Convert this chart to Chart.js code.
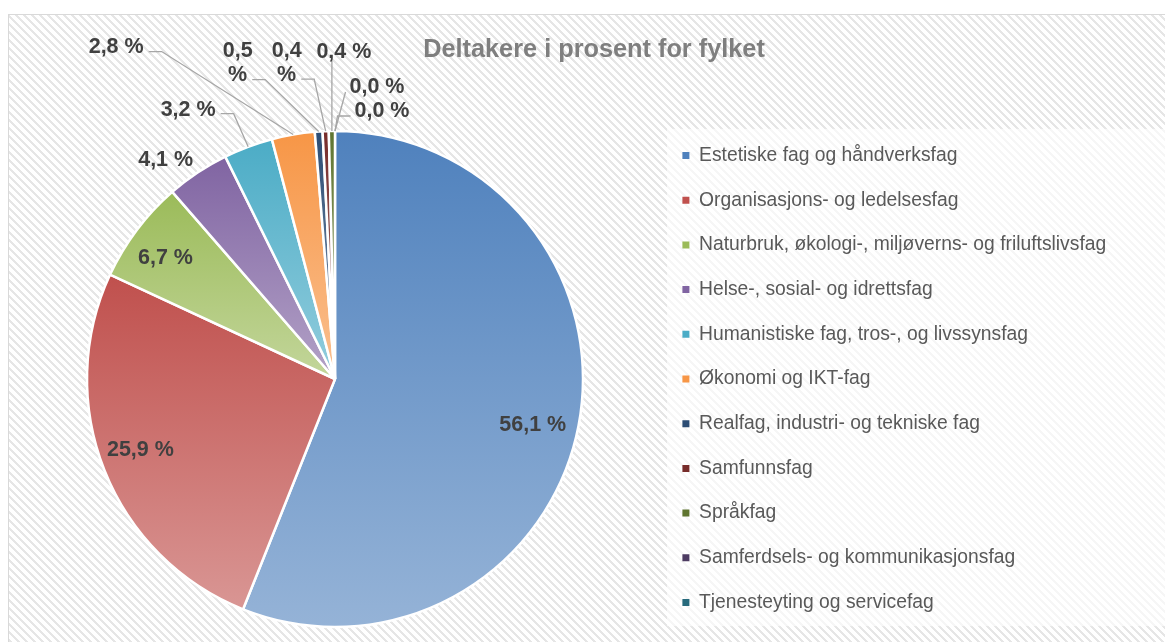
<!DOCTYPE html>
<html lang="no">
<head>
<meta charset="utf-8">
<title>Deltakere i prosent for fylket</title>
<script src="https://cdn.jsdelivr.net/npm/chart.js@4.4.1/dist/chart.umd.min.js"></script>
<style>
  html, body { margin: 0; padding: 0; background: #ffffff; }
  #wrap { width: 1165px; height: 642px; position: relative; }
</style>
</head>
<body>
<div id="wrap"><canvas id="pieChart"></canvas></div>
<script>
// Data
const chartTitle = 'Deltakere i prosent for fylket';
const categories = [
    'Estetiske fag og håndverksfag',
    'Organisasjons- og ledelsesfag',
    'Naturbruk, økologi-, miljøverns- og friluftslivsfag',
    'Helse-, sosial- og idrettsfag',
    'Humanistiske fag, tros-, og livssynsfag',
    'Økonomi og IKT-fag',
    'Realfag, industri- og tekniske fag',
    'Samfunnsfag',
    'Språkfag',
    'Samferdsels- og kommunikasjonsfag',
    'Tjenesteyting og servicefag'
];
const shares = [56.1, 25.9, 6.7, 4.1, 3.2, 2.8, 0.5, 0.4, 0.4, 0.0, 0.0];

const sliceColors = ['#4F81BD', '#C0504D', '#9BBB59', '#8064A2', '#4BACC6', '#F79646',
                     '#2C4D75', '#772C2A', '#5F7530', '#4D3B62', '#276A7C'];

// Label placement (style only): inside labels use a radius factor,
// outside labels are offset from the slice edge and get a leader line
const labelPlacement = [
    { r: 0.82, dx: -2, dy: 8 },
    { r: 0.84, dx: -1, dy: -6 },
    { r: 0.80, dx: -11, dy: -2 },
    { r: 1, dx: -32, dy: -12, line: false },
    { r: 1, dx: -60, dy: -37, line: true },
    { r: 1, dx: -177, dy: -87, line: true },
    { r: 1, dx: -81, dy: -68, line: true, wrap: true },
    { r: 1, dx: -39, dy: -68, line: true, wrap: true },
    { r: 1, dx: 12, dy: -79, line: true },
    { r: 1, dx: 42, dy: -44, line: true, elbow: 0 },
    { r: 1, dx: 47, dy: -20, line: true }
];

const FONT = '"Liberation Sans", Arial, sans-serif';

function tint(hex, amount) {
    const n = parseInt(hex.slice(1), 16);
    const c = [(n >> 16) & 255, (n >> 8) & 255, n & 255].map(v => Math.round(v + (255 - v) * amount));
    return `rgb(${c[0]}, ${c[1]}, ${c[2]})`;
}

function formatShare(v) {
    return v.toFixed(1).replace('.', ',') + ' %';
}

function makeStripes(ctx) {
    const p = document.createElement('canvas');
    p.width = 8; p.height = 8;
    const pc = p.getContext('2d');
    pc.fillStyle = '#ffffff';
    pc.fillRect(0, 0, 8, 8);
    pc.fillStyle = '#e6e6e6';
    for (let y = 0; y < 8; y++) {
        for (let x = 0; x < 8; x++) {
            const k = ((x - y) % 8 + 8) % 8;
            if (k < 3) pc.fillRect(x, y, 1, 1);
        }
    }
    return ctx.createPattern(p, 'repeat');
}

// background: striped frame, title, lighter box behind the legend
const backgroundPlugin = {
    id: 'background',
    beforeDraw(chart) {
        const ctx = chart.ctx;
        ctx.save();
        ctx.fillStyle = '#ffffff';
        ctx.fillRect(0, 0, chart.width, chart.height);
        ctx.fillStyle = makeStripes(ctx);
        ctx.fillRect(8, 14, chart.width, chart.height);
        ctx.strokeStyle = '#d9d9d9';
        ctx.lineWidth = 1;
        ctx.strokeRect(8.5, 14.5, chart.width + 10, chart.height + 10);
        const lg = chart.legend;
        if (lg && lg.legendHitBoxes && lg.legendHitBoxes.length) {
            const boxes = lg.legendHitBoxes;
            const top = boxes[0].top - 17;
            const bottom = boxes[boxes.length - 1].top + boxes[boxes.length - 1].height + 14;
            ctx.fillStyle = 'rgba(255,255,255,0.65)';
            ctx.fillRect(lg.left + 10, top, chart.width, bottom - top);
        }
        // title sits off-centre in the original, so it is drawn here
        ctx.fillStyle = '#7f7f7f';
        ctx.font = 'bold 25.3px ' + FONT;
        ctx.textAlign = 'center';
        ctx.textBaseline = 'middle';
        ctx.fillText(chartTitle, 594, 50);
        ctx.restore();
    }
};

// per-slice vertical gradient, darker on top
const gradientPlugin = {
    id: 'sliceGradient',
    beforeDatasetsDraw(chart) {
        const meta = chart.getDatasetMeta(0);
        const ctx = chart.ctx;
        meta.data.forEach((arc, i) => {
            const { x, y, startAngle, endAngle, outerRadius } = arc;
            const ys = [y, y + outerRadius * Math.sin(startAngle), y + outerRadius * Math.sin(endAngle)];
            [-Math.PI / 2, Math.PI / 2, 3 * Math.PI / 2].forEach(a => {
                if (a >= startAngle && a <= endAngle) ys.push(y + outerRadius * Math.sin(a));
            });
            const top = Math.min(...ys), bottom = Math.max(...ys);
            const g = ctx.createLinearGradient(0, top, 0, Math.max(bottom, top + 1));
            g.addColorStop(0, sliceColors[i]);
            g.addColorStop(1, tint(sliceColors[i], 0.4));
            arc.options.backgroundColor = g;
        });
    }
};

// percentage labels with leader lines
const labelPlugin = {
    id: 'shareLabels',
    afterDatasetsDraw(chart) {
        const meta = chart.getDatasetMeta(0);
        const ctx = chart.ctx;
        ctx.save();
        ctx.font = 'bold 21.5px ' + FONT;
        ctx.textAlign = 'center';
        ctx.textBaseline = 'middle';
        meta.data.forEach((arc, i) => {
            const pl = labelPlacement[i];
            const mid = (arc.startAngle + arc.endAngle) / 2;
            const ex = arc.x + arc.outerRadius * Math.cos(mid);
            const ey = arc.y + arc.outerRadius * Math.sin(mid);
            const lx = arc.x + pl.r * arc.outerRadius * Math.cos(mid) + pl.dx;
            const ly = arc.y + pl.r * arc.outerRadius * Math.sin(mid) + pl.dy;
            const text = formatShare(shares[i]);
            const lines = pl.wrap ? text.split(' ') : [text];
            const lh = 24;
            const y0 = ly - (lines.length - 1) * lh / 2;
            let w = 0;
            lines.forEach(t => { w = Math.max(w, ctx.measureText(t).width); });
            const lastW = ctx.measureText(lines[lines.length - 1]).width;
            const lastY = y0 + (lines.length - 1) * lh;

            if (pl.line) {
                ctx.strokeStyle = '#a6a6a6';
                ctx.lineWidth = 1.3;
                ctx.beginPath();
                const elbow = pl.elbow === undefined ? 13 : pl.elbow;
                if (ex > lx - w / 2 && ex < lx + w / 2) {
                    ctx.moveTo(ex, lastY + 9);
                    ctx.lineTo(ex, ey);
                } else if (ex >= lx + w / 2) {
                    const ax = lx + lastW / 2 + 5, ay = lastY + 4;
                    ctx.moveTo(ax, ay);
                    ctx.lineTo(ax + elbow, ay);
                    ctx.lineTo(ex, ey);
                } else {
                    const ax = lx - lastW / 2 - 4, ay = lastY + 5;
                    ctx.moveTo(ax, ay);
                    ctx.lineTo(ax - elbow, ay);
                    ctx.lineTo(ex, ey);
                }
                ctx.stroke();
            }
            ctx.fillStyle = '#404040';
            lines.forEach((t, k) => ctx.fillText(t, lx, y0 + k * lh));
        });
        ctx.restore();
    }
};

const baseLegendLabels = Chart.overrides.doughnut.plugins.legend.labels.generateLabels;

const chart = new Chart(document.getElementById('pieChart'), {
    type: 'pie',
    data: {
        labels: categories,
        datasets: [{
            data: shares,
            backgroundColor: sliceColors,
            borderColor: '#ffffff',
            borderWidth: 2.5,
            radius: 248
        }]
    },
    options: {
        responsive: true,
        maintainAspectRatio: false,
        animation: false,
        events: [],
        layout: { padding: { left: 13, right: 0, top: 116, bottom: 0 } },
        plugins: {
            title: { display: false },
            legend: {
                display: true,
                position: 'right',
                align: 'center',
                fullSize: false,
                labels: {
                    color: '#595959',
                    font: { family: FONT, size: 19.3 },
                    boxWidth: 7,
                    boxHeight: 7,
                    padding: 25.4,
                    generateLabels(c) {
                        const items = baseLegendLabels(c);
                        items.forEach(it => { it.lineWidth = 0; it.strokeStyle = 'rgba(0,0,0,0)'; });
                        return items;
                    }
                }
            },
            tooltip: { enabled: false }
        }
    },
    plugins: [backgroundPlugin, gradientPlugin, labelPlugin]
});

// push the legend so the pie sits where it does in the original
const wantLegendLeft = 657;
if (chart.legend) {
    chart.options.layout.padding.right += chart.legend.left - wantLegendLeft;
    chart.update();
}
</script>
</body>
</html>
